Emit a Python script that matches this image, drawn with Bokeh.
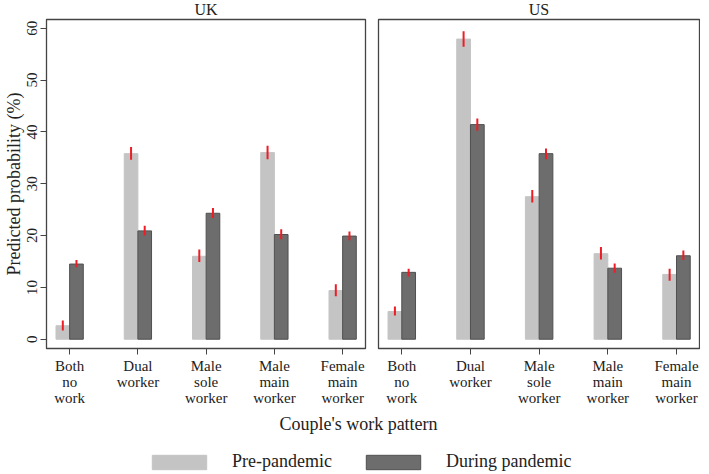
from bokeh.plotting import figure
from bokeh.layouts import column, row
from bokeh.models import (ColumnDataSource, Range1d, FixedTicker, Label, Legend, LegendItem)
from bokeh.transform import dodge
from bokeh.embed import file_html
from bokeh.resources import INLINE

# ---- data ----
categories = ["Both\nno\nwork", "Dual\nworker", "Male\nsole\nworker", "Male\nmain\nworker", "Female\nmain\nworker"]
positions = [1, 2, 3, 4, 5]

uk_pre = [2.6, 35.8, 16.0, 36.0, 9.4]
uk_pre_lo = [1.7, 34.6, 14.9, 34.7, 8.3]
uk_pre_hi = [3.6, 37.1, 17.3, 37.3, 10.6]
uk_dur = [14.5, 20.9, 24.3, 20.2, 19.9]
uk_dur_lo = [13.9, 20.0, 23.4, 19.3, 19.1]
uk_dur_hi = [15.3, 21.9, 25.3, 21.2, 20.8]

us_pre = [5.35, 57.9, 27.5, 16.5, 12.5]
us_pre_lo = [4.6, 56.4, 26.4, 15.4, 11.3]
us_pre_hi = [6.3, 59.4, 28.8, 17.8, 13.6]
us_dur = [12.9, 41.4, 35.8, 13.7, 16.1]
us_dur_lo = [12.1, 40.2, 34.7, 12.8, 15.3]
us_dur_hi = [13.6, 42.6, 36.8, 14.6, 17.1]

y_ticks = [0, 10, 20, 30, 40, 50, 60]
series_names = ["Pre-pandemic", "During pandemic"]

FONT = "Liberation Serif"
PRE_COLOR = "#c4c4c4"
DUR_COLOR = "#6d6d6d"
DUR_LINE = "#505050"
ERR_COLOR = "#ee1c24"
AX_COLOR = "#444444"
TXT = "#222222"
TOP_H = 408


def panel(title, pre, pre_lo, pre_hi, dur, dur_lo, dur_hi, show_y, width, left, right):
    src = ColumnDataSource(dict(x=positions, pre=pre, pre_lo=pre_lo, pre_hi=pre_hi,
                                dur=dur, dur_lo=dur_lo, dur_hi=dur_hi))
    p = figure(width=width, height=TOP_H, output_backend="svg", toolbar_location=None,
               x_range=Range1d(0.661, 5.335), y_range=Range1d(-1.79, 61.68),
               min_border_left=left, min_border_right=right, min_border_top=19,
               min_border_bottom=60, title=title)
    p.title.align = "center"
    p.title.vertical_align = "top"
    p.title.text_font = FONT
    p.title.text_font_size = "16px"
    p.title.text_font_style = "normal"
    p.title.text_color = TXT
    p.title.standoff = 0
    p.title.offset = 0
    p.grid.visible = False
    p.outline_line_color = AX_COLOR
    p.outline_line_width = 1.3
    p.outline_line_alpha = 1
    p.background_fill_color = "white"
    p.border_fill_color = "white"

    p.vbar(x=dodge("x", -0.1, range=p.x_range), top="pre", bottom=0, width=0.2,
           source=src, fill_color=PRE_COLOR, line_color=PRE_COLOR)
    p.vbar(x=dodge("x", 0.1, range=p.x_range), top="dur", bottom=0, width=0.2,
           source=src, fill_color=DUR_COLOR, line_color=DUR_LINE, line_width=1)
    p.segment(x0=dodge("x", -0.1, range=p.x_range), x1=dodge("x", -0.1, range=p.x_range),
              y0="pre_lo", y1="pre_hi", source=src, line_color=ERR_COLOR, line_width=2)
    p.segment(x0=dodge("x", 0.1, range=p.x_range), x1=dodge("x", 0.1, range=p.x_range),
              y0="dur_lo", y1="dur_hi", source=src, line_color=ERR_COLOR, line_width=2)

    xa = p.xaxis[0]
    xa.ticker = FixedTicker(ticks=positions)
    xa.major_label_overrides = {k: v for k, v in zip(positions, categories)}
    xa.minor_tick_line_color = None
    xa.major_tick_out = 6
    xa.major_tick_in = 0
    xa.major_label_standoff = 3
    xa.major_label_text_font = FONT
    xa.major_label_text_font_size = "15px"
    xa.major_label_text_color = TXT
    xa.major_label_text_line_height = 1.0
    xa.axis_line_color = AX_COLOR
    xa.major_tick_line_color = AX_COLOR

    ya = p.yaxis[0]
    if show_y:
        ya.ticker = FixedTicker(ticks=y_ticks)
        ya.minor_tick_line_color = None
        ya.major_tick_out = 6
        ya.major_tick_in = 0
        ya.major_label_orientation = "vertical"
        ya.major_label_standoff = 3
        ya.major_label_text_font = FONT
        ya.major_label_text_font_size = "15px"
        ya.major_label_text_color = TXT
        ya.axis_label = "Predicted probability (%)"
        ya.axis_label_text_font = FONT
        ya.axis_label_text_font_size = "18px"
        ya.axis_label_text_font_style = "normal"
        ya.axis_label_text_color = TXT
        ya.axis_label_standoff = 1
        ya.axis_line_color = AX_COLOR
        ya.major_tick_line_color = AX_COLOR
    else:
        ya.visible = False
    return p


p_uk = panel("UK", uk_pre, uk_pre_lo, uk_pre_hi, uk_dur, uk_dur_lo, uk_dur_hi,
             True, 44 + 321 + 6, 44, 6)
p_us = panel("US", us_pre, us_pre_lo, us_pre_hi, us_dur, us_dur_lo, us_dur_hi,
             False, 7 + 321 + 1, 7, 1)

# bottom strip: x title + legend
BOT_H = 64
pb = figure(width=700, height=BOT_H, output_backend="svg", toolbar_location=None,
            x_range=Range1d(0, 700), y_range=Range1d(BOT_H, 0),
            min_border=0, min_border_left=0, min_border_right=0,
            min_border_top=0, min_border_bottom=0)
pb.axis.visible = False
pb.grid.visible = False
pb.outline_line_color = None
pb.border_fill_color = "white"

pb.add_layout(Label(x=358, y=15, text="Couple's work pattern", text_align="center",
                    text_baseline="middle", text_font=FONT, text_font_size="18px",
                    text_color=TXT))

# legend swatches: placeholder rows (NaN) so only the legend glyph is drawn
nan = float("nan")
leg_src = ColumnDataSource(dict(x=[nan], top=[nan]))
r_pre = pb.vbar(x="x", top="top", width=1, source=leg_src, fill_color=PRE_COLOR, line_color=PRE_COLOR)
r_dur = pb.vbar(x="x", top="top", width=1, source=leg_src, fill_color=DUR_COLOR, line_color=DUR_LINE)
legend = Legend(items=[LegendItem(label=series_names[0], renderers=[r_pre]),
                       LegendItem(label=series_names[1], renderers=[r_dur])],
                orientation="horizontal", location=(145, 0),
                glyph_width=68, glyph_height=18, label_height=18,
                label_standoff=19, spacing=27, padding=0, margin=0,
                border_line_alpha=0, background_fill_alpha=0,
                label_text_font=FONT, label_text_font_size="18px",
                label_text_color=TXT)
pb.add_layout(legend)

layout = column(row(p_uk, p_us), pb)
open("out.html", "w").write(file_html(layout, INLINE))
